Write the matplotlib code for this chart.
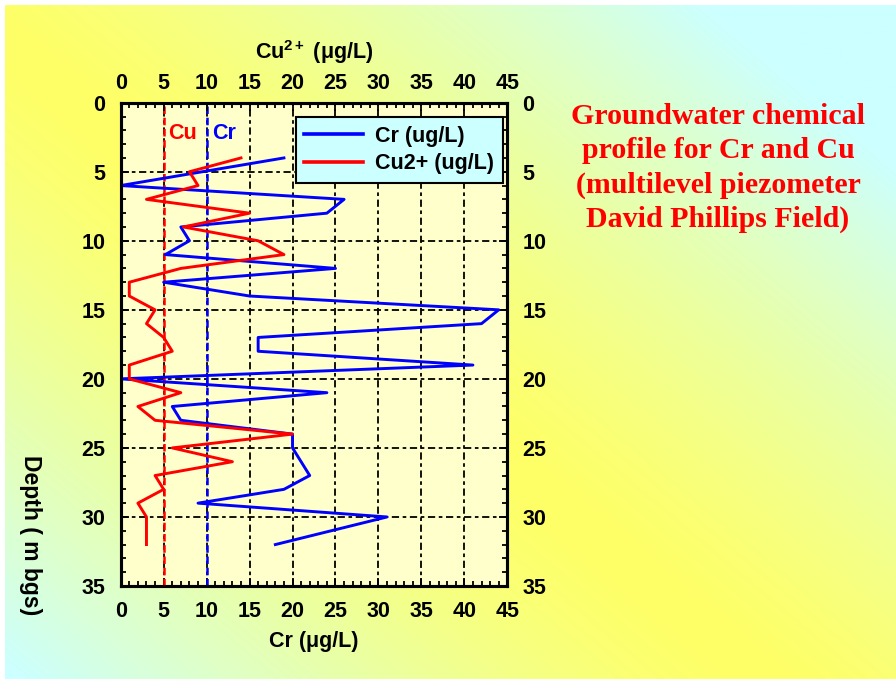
# Groundwater chemical profile - Cr and Cu vs depth
import matplotlib
matplotlib.use("Agg")
import matplotlib.pyplot as plt
import numpy as np
from matplotlib.ticker import MultipleLocator

# data (depth in m bgs, conc in ug/L)
cr_depth = [4, 6, 7, 8, 9, 10, 11, 12, 13, 14, 15, 16, 17, 18, 19, 20, 21, 22, 23, 24, 25, 27, 28, 29, 30, 32]
cr_conc = [19, 0, 26, 24, 7, 8, 5.2, 25, 5, 15, 44, 42, 16, 16, 41, 0, 24, 6, 7, 20, 20, 22, 19, 9, 31, 18]

cu_depth = [4, 5, 6, 7, 8, 9, 10, 11, 12, 13, 14, 15, 16, 17, 18, 19, 20, 21, 22, 23, 24, 25, 26, 27, 28, 29, 30, 32]
cu_conc = [14, 8, 9, 3, 15, 7.3, 16, 19, 7, 1, 1, 4, 3, 5, 6, 1, 1, 7, 2, 4, 20, 6, 13, 4, 5, 2, 3, 3]

cu_limit = 5
cr_limit = 10
x_ticks = [0, 5, 10, 15, 20, 25, 30, 35, 40, 45]
y_ticks = [0, 5, 10, 15, 20, 25, 30, 35]

plt.rcParams['font.family'] = ['Liberation Sans', 'DejaVu Sans']
plt.rcParams['font.weight'] = 'bold'
plt.rcParams['mathtext.fontset'] = 'custom'
plt.rcParams['mathtext.rm'] = 'Liberation Sans:bold'
plt.rcParams['mathtext.bf'] = 'Liberation Sans:bold'
plt.rcParams['mathtext.it'] = 'Liberation Sans:bold'

W, H = 896, 679
fs = 15.5
fig = plt.figure(figsize=(W / 100, H / 100), dpi=100, facecolor='white')

# gradient background (yellow on the diagonal, cyan at the other corners)
bg = fig.add_axes([5 / W, 0, 1 - 5 / W, 1 - 5 / H])
u = np.linspace(0, 1, 300)[None, :]
v = np.linspace(0, 1, 300)[:, None]
t = np.clip(np.abs(u - 0.9 * v + 0.05) * 1.2, 0, 1) ** 1.4
t = t[..., None]
yellow = np.array([1.0, 1.0, 0.40])
cyan = np.array([0.80, 1.0, 1.0])
img = yellow * (1 - t) + cyan * t
bg.imshow(img, aspect='auto', extent=[0, 1, 1, 0])
bg.axis('off')

left, right = 120.7 / W, 507.3 / W
top, bottom = 1 - 102.7 / H, 1 - 586 / H
ax = fig.add_axes([left, bottom, right - left, top - bottom])
ax.set_facecolor('#ffffcc')

ax.plot(cr_conc, cr_depth, color='#0000ff', lw=2.1, label='Cr (ug/L)', zorder=4)
ax.axvline(cu_limit, color='#ff0000', lw=1.8, ls=(0, (3, 1.5)), zorder=3)
ax.axvline(cr_limit, color='#0000ff', lw=1.8, ls=(0, (3, 1.5)), zorder=3)
ax.text(5.5, 2.2, 'Cu', color='#ff0000', fontsize=fs, fontweight='bold', va='center')
ax.text(10.6, 2.2, 'Cr', color='#0000ff', fontsize=fs, fontweight='bold', va='center')

ax.set_xlim(0, 45)
ax.set_ylim(35, 0)
ax.set_xticks(x_ticks)
ax.set_yticks(y_ticks)
ax.xaxis.set_minor_locator(MultipleLocator(1))
ax.yaxis.set_minor_locator(MultipleLocator(1))
ax.grid(True, which='major', color='black', lw=1.3, ls=(0, (4, 2, 2, 2)))
ax.tick_params(which='both', direction='in', top=False, right=True, left=True, bottom=True,
               labelright=True, labelsize=fs, pad=11, width=1.3)
ax.tick_params(which='major', length=6)
ax.tick_params(which='minor', length=3.5)
for lab in ax.get_xticklabels() + ax.get_yticklabels():
    lab.set_fontweight('bold')
for sp in ax.spines.values():
    sp.set_linewidth(2.2)

# top axis for copper
ax2 = ax.twiny()
ax2.plot(cu_conc, cu_depth, color='#ff0000', lw=2.1, label='Cu2+ (ug/L)', zorder=4)
ax2.set_xlim(0, 45)
ax2.set_ylim(35, 0)
ax2.set_xticks(x_ticks)
ax2.xaxis.set_minor_locator(MultipleLocator(1))
ax2.tick_params(which='both', direction='in', labelsize=fs, pad=6, width=1.3)
ax2.tick_params(which='major', length=6)
ax2.tick_params(which='minor', length=3.5)
for lab in ax2.get_xticklabels():
    lab.set_fontweight('bold')
for sp in ax2.spines.values():
    sp.set_linewidth(2.2)

h1, l1 = ax.get_legend_handles_labels()
h2, l2 = ax2.get_legend_handles_labels()
leg = ax2.legend(h1 + h2, l1 + l2, loc='upper right', bbox_to_anchor=(0.989, 0.970),
                 borderaxespad=0, fancybox=False, framealpha=1, handlelength=2.7,
                 handletextpad=0.6, prop={'size': fs, 'weight': 'bold'},
                 borderpad=0.4, labelspacing=0.3)
leg.get_frame().set_facecolor('#ccffff')
leg.get_frame().set_edgecolor('black')
leg.get_frame().set_linewidth(1.5)
for line in leg.get_lines():
    line.set_linewidth(2.6)

# axis titles
fig.text((left + right) / 2, 1 - 52 / H, r'Cu$^{2+}$ (μg/L)', ha='center', va='center',
         fontsize=fs, fontweight='bold')
fig.text((left + right) / 2, 1 - 642 / H, 'Cr (μg/L)', ha='center', va='center',
         fontsize=fs, fontweight='bold')
fig.text(30 / W, 1 - 535 / H, 'Depth ( m bgs)', ha='center', va='center', rotation=270,
         fontsize=16.5, fontweight='bold')

fig.text(718 / W, 1 - 168 / H,
         'Groundwater chemical\nprofile for Cr and Cu\n(multilevel piezometer\nDavid Phillips Field)',
         ha='center', va='center', color='#ff0000', fontsize=21.5, fontweight='bold',
         family=['Liberation Serif', 'DejaVu Serif'], linespacing=1.34)

fig.savefig('out.png', dpi=100)
